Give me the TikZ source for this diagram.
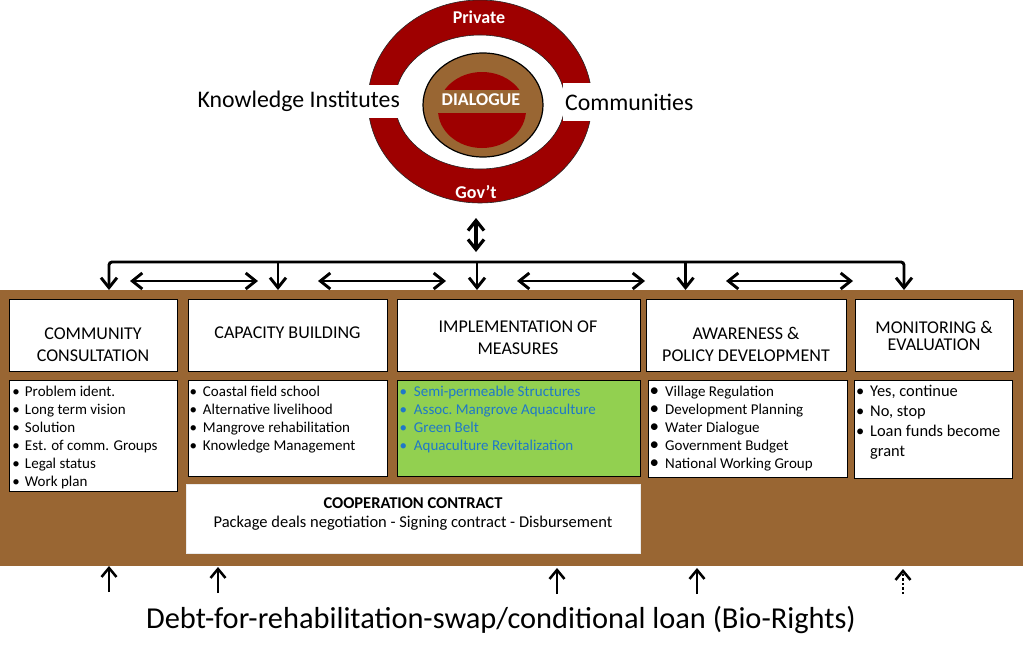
\documentclass[tikz,border=0pt]{standalone}
\usepackage{fontspec}
\setmainfont{Carlito}
\usetikzlibrary{arrows.meta}
\definecolor{brownc}{HTML}{996633}
\definecolor{ringred}{HTML}{9E0000}
\definecolor{greenc}{HTML}{92D050}
\definecolor{bluet}{HTML}{1F78C8}
\newcommand{\fs}[2]{\fontsize{#1}{#2}\selectfont}
\newcommand{\itm}[2][12pt]{\makebox[#1][l]{•}#2}
\newcommand{\itmb}[1]{\makebox[15.5pt][l]{\fontsize{19}{18}\selectfont •}#1}
\tikzset{
  hdr/.style={draw=black, line width=1.3pt, fill=white, inner sep=0pt, anchor=north west},
  hlab/.style={font=\fs{18}{22}, align=center, inner sep=0pt},
  lst/.style={font=\fs{15}{18}, align=left, inner sep=0pt, anchor=north west},
  bus/.style={line width=2.9pt, rounded corners=3pt},
  tipA/.tip={Straight Barb[length=10pt,width=16pt]},
  tipB/.tip={Straight Barb[length=9pt,width=15pt]},
  downarr/.style={bus, -tipA},
  dblarr/.style={line width=2.9pt, tipA-tipA},
  uparr/.style={line width=2.5pt, -tipB},
  ringlab/.style={font=\fs{18}{20}\bfseries, text=white, inner sep=0pt},
}
\begin{document}
\begin{tikzpicture}[x=1pt,y=-1pt]
\useasboundingbox (0,0) rectangle (1023,656);

% ---- dialogue ring ----
\fill[ringred, even odd rule] (480,101.5) ellipse [x radius=112pt, y radius=101.5pt]
   (480,102) ellipse [x radius=85pt, y radius=67pt];
\draw[black!85, line width=0.6pt] (480,101.5) ellipse [x radius=112pt, y radius=101.5pt];
\draw[black!85, line width=0.6pt] (480,102) ellipse [x radius=85pt, y radius=67pt];
\draw[fill=brownc, line width=1.2pt] (483,105) ellipse [x radius=60pt, y radius=52pt];
\fill[ringred] (482,110) ellipse [x radius=44pt, y radius=38pt];
\fill[brownc] (434,90) rectangle (532,113);

\node[ringlab] (priv) at (479,17) {Private};
\node[ringlab] (gov) at (476,192) {Gov’t};
\node[ringlab] (dlg) at (481,100) {DIALOGUE};

\node[fill=white, font=\fs{23.8}{26}, inner xsep=2pt, inner ysep=0pt, minimum height=33pt, anchor=east] (ki) at (402,101.5) {Knowledge Institutes};
\node[fill=white, font=\fs{23.8}{26}, inner xsep=2pt, inner ysep=0pt, minimum height=38pt, anchor=west] (com) at (563,102) {Communities};

% ---- brown band ----
\node[fill=brownc, draw=none, minimum width=1023pt, minimum height=276pt, inner sep=0pt, anchor=north west] (band) at (0,290) {};

% ---- header boxes ----
\node[hdr, minimum width=168pt, minimum height=71.5pt] (h1) at (9,299) {};
\node[hdr, minimum width=199pt, minimum height=71.5pt] (h2) at (188,299) {};
\node[hdr, minimum width=243pt, minimum height=71.5pt] (h3) at (397,299) {};
\node[hdr, minimum width=200pt, minimum height=71.5pt] (h4) at (646,299) {};
\node[hdr, minimum width=158pt, minimum height=71.5pt] (h5) at (855,299) {};

\node[hlab] (t1) at (93,344.5) {COMMUNITY\\CONSULTATION};
\node[hlab] (t2) at (287.5,333) {CAPACITY BUILDING};
\node[hlab] (t3) at (518,338) {IMPLEMENTATION OF\\MEASURES};
\node[hlab] (t4) at (746,344) {AWARENESS \&\\POLICY DEVELOPMENT};
\node[hlab, font=\fs{18}{17}] (t5) at (934,335.5) {MONITORING \&\\EVALUATION};

% ---- content boxes ----
\node[hdr, minimum width=168pt, minimum height=111pt] (l1) at (9,380) {};
\node[hdr, minimum width=199pt, minimum height=96pt] (l2) at (188,380) {};
\node[hdr, fill=greenc, minimum width=243pt, minimum height=96pt] (l3) at (397,380) {};
\node[hdr, minimum width=199pt, minimum height=97pt] (l4) at (648,380) {};
\node[hdr, minimum width=158pt, minimum height=98pt] (l5) at (854,380) {};

\node[lst] (x1) at (12.3,383.4) {\strut\itm[12.5pt]{Problem ident.}\\\itm[12.5pt]{Long term vision}\\\itm[12.5pt]{Solution}\\\itm[12.5pt]{Est. of comm. Groups}\\\itm[12.5pt]{Legal status}\\\itm[12.5pt]{Work plan}};
\node[lst] (x2) at (189.3,383.4) {\strut\itm[13.5pt]{Coastal field school}\\\itm[13.5pt]{Alternative livelihood}\\\itm[13.5pt]{Mangrove rehabilitation}\\\itm[13.5pt]{Knowledge Management}};
\node[lst, text=bluet] (x3) at (399.3,383.4) {\strut\itm[14.5pt]{Semi-permeable Structures}\\\itm[14.5pt]{Assoc.\ Mangrove Aquaculture}\\\itm[14.5pt]{Green Belt}\\\itm[14.5pt]{Aquaculture Revitalization}};
\node[lst] (x4) at (649.5,383.4) {\strut\itmb{Village Regulation}\\\itmb{Development Planning}\\\itmb{Water Dialogue}\\\itmb{Government Budget}\\\itmb{National Working Group}};
\node[lst, font=\fs{16.4}{20}] (x5) at (856,382.5) {\strut\itm[14pt]{Yes, continue}\\\itm[14pt]{No, stop}\\\itm[14pt]{Loan funds become}\\\hspace*{14pt}grant};

% ---- cooperation contract ----
\node[fill=white, draw=black!8, line width=0.5pt, minimum width=454pt, minimum height=69pt, inner sep=0pt, anchor=north west] (coop) at (186,484) {};
\node[font=\fs{16.5}{19}, align=center, inner sep=0pt] (cooptxt) at (413,514.5) {\textbf{COOPERATION CONTRACT}\\Package deals negotiation - Signing contract - Disbursement};

% ---- top connectors ----
\coordinate (rb) at (476,218);
\coordinate (rt) at (476,252);
\coordinate (b1) at (109,262);
\coordinate (b2) at (278,262);
\coordinate (b3) at (477,262);
\coordinate (b4) at (685.5,262);
\coordinate (b5) at (904,262);
\coordinate (d1) at (109,290);
\coordinate (d2) at (278,290);
\coordinate (d3) at (477,290);
\coordinate (d4) at (685.5,290);
\coordinate (d5) at (904,290);
\draw[line width=3.2pt, tipA-tipA] (rb) -- (rt);
\draw[bus, tipA-tipA] (d1) -- (b1) -- (b5) -- (d5);
\draw[downarr] (b2) -- (d2);
\draw[downarr] (b3) -- (d3);
\draw[downarr] (b4) -- (d4);

\coordinate (pa1) at (130,281); \coordinate (pb1) at (258,281);
\coordinate (pa2) at (318,281); \coordinate (pb2) at (446,281);
\coordinate (pa3) at (517,281); \coordinate (pb3) at (645,281);
\coordinate (pa4) at (726,281); \coordinate (pb4) at (853,281);
\draw[dblarr] (pa1) -- (pb1);
\draw[dblarr] (pa2) -- (pb2);
\draw[dblarr] (pa3) -- (pb3);
\draw[dblarr] (pa4) -- (pb4);

% ---- bottom arrows ----
\coordinate (u1) at (109,592); \coordinate (v1) at (109,566);
\coordinate (u2) at (218,593); \coordinate (v2) at (218,567);
\coordinate (u3) at (557,594); \coordinate (v3) at (557,568);
\coordinate (u4) at (697,594); \coordinate (v4) at (697,568);
\coordinate (u5) at (903,594); \coordinate (v5) at (903,569);
\draw[uparr] (u1) -- (v1);
\draw[uparr] (u2) -- (v2);
\draw[uparr] (u3) -- (v3);
\draw[uparr] (u4) -- (v4);
\draw[uparr, dotted] (u5) -- (v5);

\node[font=\fs{30.4}{34}, inner sep=0pt] (debt) at (501,620) {Debt-for-rehabilitation-swap/conditional loan (Bio-Rights)};
\end{tikzpicture}
\end{document}
